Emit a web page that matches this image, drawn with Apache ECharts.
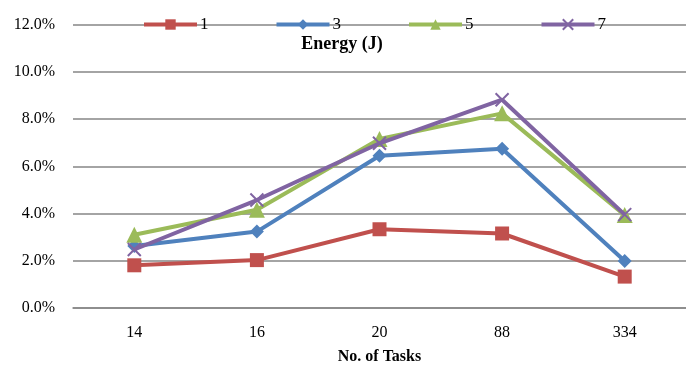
<!DOCTYPE html>
<html>
<head>
<meta charset="utf-8">
<script src="https://cdn.jsdelivr.net/npm/echarts@6/dist/echarts.min.js"></script>
<style>html,body{margin:0;padding:0;background:#fff;}#c{width:686px;height:373px;}</style>
</head>
<body>
<div id="c"></div>
<script>
const categories = ['14', '16', '20', '88', '334'];
const seriesNames = ['1', '3', '5', '7'];
const s1 = [1.80, 2.02, 3.33, 3.15, 1.32];
const s3 = [2.62, 3.23, 6.45, 6.75, 1.98];
const s5 = [3.10, 4.16, 7.16, 8.25, 3.93];
const s7 = [2.47, 4.57, 6.98, 8.83, 3.95];
const yTicks = [0, 2, 4, 6, 8, 10, 12];

const colors = ['#C0504D', '#4F81BD', '#9BBB59', '#8064A2'];
const crossPath = 'path://M0,0L10,10M10,0L0,10';
const symbols = ['rect', 'diamond', 'triangle', crossPath];
const symbolSizes = [14, 14, 16, 13];
const dataSets = [s1, s3, s5, s7];
const font = 'Liberation Serif, Times New Roman, serif';

const chart = echarts.init(document.getElementById('c'));
chart.setOption({
  animation: false,
  backgroundColor: '#fff',
  title: {
    text: 'Energy (J)',
    left: 337, top: 30, textAlign: 'center',
    textStyle: { fontFamily: font, fontWeight: 'bold', fontSize: 18, color: '#000' }
  },
  legend: {
    left: 137, top: 11,
    itemWidth: 53, itemHeight: 13, itemGap: 66,
    lineStyle: { width: 4 },
    textStyle: { fontFamily: font, fontSize: 17, color: '#000', padding: [0, 0, 0, -2] },
    data: seriesNames
  },
  grid: { left: 73, right: -8, top: 25, bottom: 65.3, containLabel: false },
  xAxis: {
    type: 'category',
    data: categories,
    boundaryGap: true,
    name: 'No. of Tasks',
    nameLocation: 'middle',
    nameGap: 41,
    nameTextStyle: { fontFamily: font, fontWeight: 'bold', fontSize: 16, color: '#000' },
    axisLine: { lineStyle: { color: '#868686', width: 1.5 } },
    axisTick: { alignWithLabel: true, length: 5, lineStyle: { color: '#868686', width: 1 } },
    axisLabel: { fontFamily: font, fontSize: 16, color: '#000', margin: 17 }
  },
  yAxis: {
    type: 'value',
    min: yTicks[0], max: yTicks[yTicks.length - 1], interval: 2,
    axisLine: { show: false },
    axisTick: { show: false },
    splitLine: { lineStyle: { color: '#868686', width: 1.5 } },
    axisLabel: {
      fontFamily: font, fontSize: 16, color: '#000', margin: 18,
      formatter: v => v.toFixed(1) + '%'
    }
  },
  series: dataSets.map((d, i) => ({
    name: seriesNames[i],
    type: 'line',
    data: d,
    symbol: symbols[i],
    symbolSize: symbolSizes[i],
    symbolKeepAspect: true,
    showAllSymbol: true,
    lineStyle: { color: colors[i], width: 4 },
    itemStyle: i === 3
      ? { color: colors[i], borderColor: colors[i], borderWidth: 2 }
      : { color: colors[i], borderWidth: 0 },
    emphasis: { disabled: true },
    z: 2 + i
  }))
});
</script>
</body>
</html>
